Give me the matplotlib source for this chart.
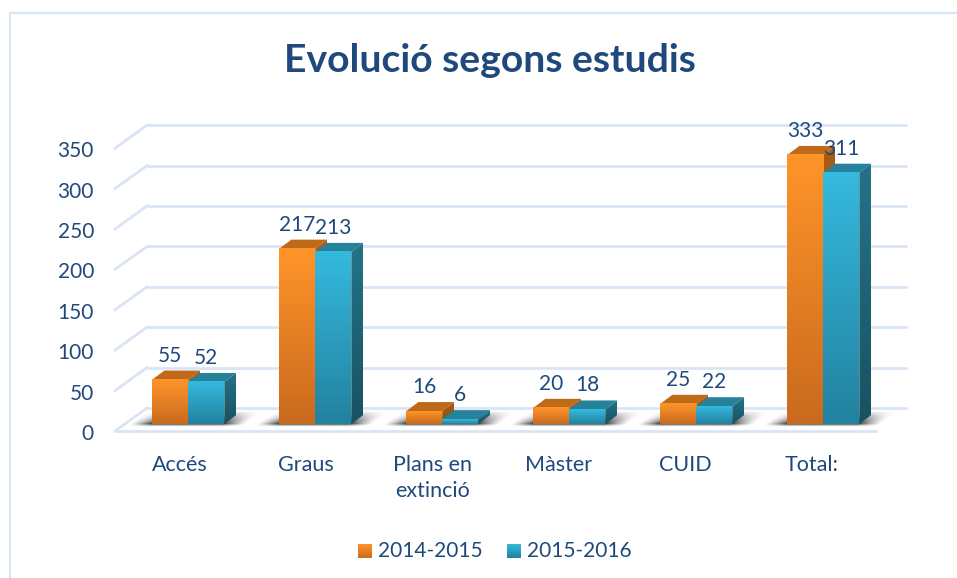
#Evolucio segons estudis - fake 3D bar chart with gradients
import numpy as np
import matplotlib
matplotlib.use('Agg')
import matplotlib.pyplot as plt
from matplotlib.patches import Polygon

plt.rcParams['font.family'] = ['Lato', 'DejaVu Sans']

#Datas
categories = ['Accés', 'Graus', 'Plans en\nextinció', 'Màster', 'CUID', 'Total:']
series_2014 = [55, 217, 16, 20, 25, 333]
series_2015 = [52, 213, 6, 18, 22, 311]
series_names = ['2014-2015', '2015-2016']
y_ticks = [0, 50, 100, 150, 200, 250, 300, 350]

TEXT = '#1F497D'
GRID = '#D9E5F6'
W, H = 957, 578
X0, Y0 = 115.0, 431.0      # front left corner of the floor, pixels
PX_CAT, PX_VAL = 127.0, 0.808
BACK_X, BACK_Y = 32.0, 23.0  # depth of the chart box, pixels

fig = plt.figure(figsize=(W / 100, H / 100), dpi=100)
ax = fig.add_axes([0, 0, 1, 1])
xlim = (-X0 / PX_CAT, (W - X0) / PX_CAT)
ylim = ((Y0 - H) / PX_VAL, Y0 / PX_VAL)
dx = 1 / PX_CAT    # one pixel in data units
dy = 1 / PX_VAL

def grad(top, bottom, n=64):
    t = np.linspace(0, 1, n)[:, None]
    c0 = np.array(matplotlib.colors.to_rgb(top))
    c1 = np.array(matplotlib.colors.to_rgb(bottom))
    return (c0 * (1 - t) + c1 * t)[:, None, :]

def shade(x0, x1, y0, y1, top, bottom, clip=None):
    im = ax.imshow(grad(top, bottom), extent=(x0, x1, y0, y1), aspect='auto',
                   origin='upper', zorder=4, interpolation='bilinear')
    if clip is not None:
        clip.set_transform(ax.transData)
        im.set_clip_path(clip)

def shadow(l, r):
    # soft smear on the floor, l and r are the bottom corners of the front faces
    px = np.arange(-24, (r - l) / dx + 36)
    py = np.arange(-3, 15, 1.0)
    xx, hh = np.meshgrid(px, py)
    skew = xx - hh * 1.33
    span = (r - l) / dx
    fade_x = np.clip(1 - np.maximum(-skew, skew - span) / 22, 0, 1)
    fade_y = np.clip(1 - hh / 14, 0, 1) * np.clip((hh + 3) / 3, 0, 1)
    rgba = np.zeros(xx.shape + (4,))
    rgba[..., :3] = 0.2
    rgba[..., 3] = 0.95 * (fade_x * fade_y) ** 1.2
    ax.imshow(rgba, extent=(l + px[0] * dx, l + px[-1] * dx, 7 * dy + py[0] * dy, 7 * dy + py[-1] * dy),
              aspect='auto', origin='lower', zorder=3, interpolation='bilinear')

def bar3d(x, width, val, front, back, top_col, side_top, side_bot):
    # x, val in data units, bar stands a bit inside the floor
    bx, by = 10 * dx, 7 * dy
    ox, oy = 12 * dx, 9 * dy
    l, r = x + bx, x + width + bx
    b, t = by, val + by
    top = Polygon([(l, t), (r, t), (r + ox, t + oy), (l + ox, t + oy)], closed=True,
                  fc=top_col, ec='none', zorder=4)
    ax.add_patch(top)
    side = Polygon([(r, b), (r + ox, b + oy), (r + ox, t + oy), (r, t)], closed=True)
    shade(r, r + ox, b, t + oy, side_top, side_bot, clip=side)
    shade(l, r, b, t, front, back)

# chart box: back wall, side wall and floor grid lines
for v in y_ticks:
    yb = v + BACK_Y * dy
    ax.plot([BACK_X * dx, 6 + (BACK_X - 2) * dx], [yb, yb], color=GRID, lw=2, zorder=1, solid_capstyle='butt')
    ax.plot([0, BACK_X * dx], [v, yb], color=GRID, lw=2, zorder=1)
ax.plot([0, 6], [0, 0], color=GRID, lw=2, zorder=1, solid_capstyle='butt')

bw = 36.0 * dx
start = 27.3 * dx
for i in range(len(categories)):
    x = i + start
    shadow(x + 10 * dx, x + 2 * bw + 10 * dx)
    # blue first, the orange side is hidden behind it when orange is taller
    bar3d(x, bw, series_2014[i], '#FF9429', '#C96A1E', '#BF6A18', '#A85D17', '#8A4C12')
    bar3d(x + bw, bw, series_2015[i], '#35B9DE', '#22829F', '#26829B', '#247388', '#185262')
    ax.text(x + 0.5 * bw + 10 * dx, series_2014[i] + 31 * dy, str(series_2014[i]), color=TEXT,
            fontsize=15, ha='center', va='center', zorder=6)
    ax.text(x + 1.5 * bw + 10 * dx, series_2015[i] + 31 * dy, str(series_2015[i]), color=TEXT,
            fontsize=15, ha='center', va='center', zorder=6)
    ax.text(i * 0.9953 + 0.5 + 1 * dx, -24 * dy, categories[i], color=TEXT, fontsize=15.5,
            ha='center', va='top', linespacing=1.38, zorder=6)

for v in y_ticks:
    ax.text(-21 * dx, v - 3 * dy, str(v), color=TEXT, fontsize=15, ha='right', va='center', zorder=6)

ax.text((490 - X0) / PX_CAT, (Y0 - 61) / PX_VAL, 'Evolució segons estudis', color=TEXT,
        fontsize=28.2, fontweight='bold', ha='center', va='center', zorder=6)

# legend
leg_y = (Y0 - 551) / PX_VAL
for px, name, c0, c1 in [(358, series_names[0], '#FF9429', '#C96A1E'), (507, series_names[1], '#35B9DE', '#22829F')]:
    lx = (px - X0) / PX_CAT
    shade(lx, lx + 14 * dx, leg_y - 7 * dy, leg_y + 7 * dy, c0, c1)
    ax.text(lx + 20 * dx, leg_y, name, color=TEXT, fontsize=15, ha='left', va='center', zorder=6)

# frame of the chart area, only left and top are inside the picture
ax.plot([xlim[0] + 10 * dx, xlim[0] + 10 * dx, xlim[1]], [ylim[0], ylim[1] - 13 * dy, ylim[1] - 13 * dy],
        color=GRID, lw=1.6, zorder=0)

ax.set_xlim(xlim)
ax.set_ylim(ylim)
ax.axis('off')
fig.savefig('out.png', dpi=100)
